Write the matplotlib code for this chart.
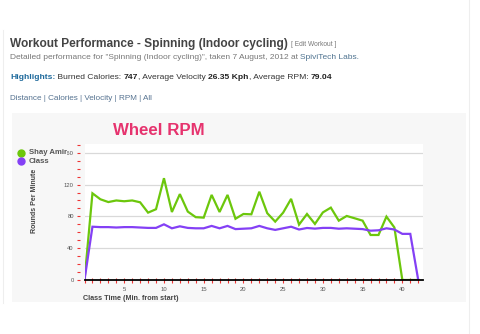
import matplotlib
matplotlib.use("Agg")
import matplotlib.pyplot as plt
from matplotlib.patches import Rectangle
from matplotlib.ticker import MultipleLocator

plt.rcParams['font.family'] = ['Liberation Sans', 'DejaVu Sans']

# Per-minute wheel RPM
minutes = list(range(0, 43))
rider_rpm = [0, 109, 101.5, 98, 100, 99, 100, 97.7, 84.7, 89, 128, 85.5, 108, 86, 79,
             78.4, 107, 85.5, 107, 77, 83, 82.6, 111, 84, 73.4, 84.7, 102, 69.6, 83,
             70.5, 85, 91, 74.6, 80.5, 77.6, 74.6, 56.6, 56.6, 79.7, 66, 0, 0, 0]
class_rpm = [0, 67, 66.5, 66.5, 66, 66.5, 66.5, 66, 65.5, 65.5, 70, 65, 67.5, 65.5, 65,
             65, 68, 65, 68, 64, 64.5, 65, 68, 65, 63, 65, 67, 63.5, 65.4, 64.6, 65.5,
             65.5, 64.5, 65, 64.5, 64, 62, 62.5, 65, 63.5, 58, 58, 0]
series_names = ["Shay Amir", "Class"]
y_ticks = [0, 40, 80, 120, 160]
x_ticks = [5, 10, 15, 20, 25, 30, 35, 40]
nav_links = ["Distance", "Calories", "Velocity", "RPM", "All"]

W, H = 480, 334
GREEN = "#6cc70c"
PURPLE = "#8440f5"
LINK = "#557290"

fig = plt.figure(figsize=(W / 100, H / 100), dpi=100)
fig.patch.set_facecolor("white")


def fx(x):
    return x / W


def fy(y):
    return 1 - y / H


renderer = fig.canvas.get_renderer()


def text_row(x, y, pieces, size):
    """Draw a run of text pieces on one baseline, each with its own weight/colour."""
    cx = x
    for s, weight, color in pieces:
        t = fig.text(fx(cx), fy(y), s, fontsize=size, fontweight=weight,
                     color=color, va="baseline", ha="left")
        bb = t.get_window_extent(renderer=renderer)
        cx += bb.width


# Faint page frame
fig.add_artist(plt.Line2D([fx(3), fx(3)], [fy(30), fy(303)], color="#eeeeee", lw=0.8))
fig.add_artist(plt.Line2D([fx(469), fx(469)], [fy(0), fy(334)], color="#eeeeee", lw=0.8))

# Page header
text_row(10, 47, [("Workout Performance - Spinning (Indoor cycling)", "bold", "#444444")], 8.6)
text_row(291, 46.5, [("[ Edit Workout ]", "normal", "#777777")], 4.8)
text_row(10, 59, [("Detailed performance for \"Spinning (Indoor cycling)\", taken 7 August, 2012 at ", "normal", "#777777"),
                  ("SpiviTech Labs.", "normal", "#4f7390")], 6.0)
text_row(10, 79, [("Highlights:", "bold", "#1f6a9c"),
                  (" Burned Calories: ", "normal", "#333333"),
                  ("747", "bold", "#222222"),
                  (", Average Velocity ", "normal", "#333333"),
                  ("26.35 Kph", "bold", "#222222"),
                  (", Average RPM: ", "normal", "#333333"),
                  ("79.04", "bold", "#222222")], 6.1)
fig.text(fx(10), fy(100.5), " | ".join(nav_links), fontsize=5.9, color=LINK,
         va="baseline", ha="left")

# Chart panel
fig.add_artist(Rectangle((fx(12), fy(302)), fx(466) - fx(12), fy(113) - fy(302),
                         transform=fig.transFigure, facecolor="#f7f7f7",
                         edgecolor="none", zorder=-5))

ax = fig.add_axes([fx(84.5), fy(280), fx(423) - fx(84.5), fy(144) - fy(280)])
ax.set_facecolor("white")
ax.set_xlim(0, 42.6)
ax.set_ylim(0, 171)

ax.plot(minutes, rider_rpm, color=GREEN, lw=1.6, solid_joinstyle="miter", zorder=3)
ax.plot(minutes, class_rpm, color=PURPLE, lw=1.6, solid_joinstyle="miter", zorder=4)

ax.set_yticks(y_ticks)
ax.yaxis.set_minor_locator(MultipleLocator(10))
ax.set_xticks(x_ticks)
ax.xaxis.set_minor_locator(MultipleLocator(1))
ax.grid(axis="y", which="major", color="#d9d9d9", lw=0.9)
ax.set_axisbelow(True)

for side in ("top", "right"):
    ax.spines[side].set_visible(False)
ax.spines["left"].set_position(("outward", 3))
ax.spines["left"].set_visible(False)
ax.spines["bottom"].set_color("black")
ax.spines["bottom"].set_linewidth(1.3)
ax.spines["bottom"].set_zorder(5)

ax.tick_params(axis="y", which="both", color="#ee3333", length=2.2, width=0.8,
               labelsize=4.2, labelcolor="#555555", pad=2.5)
ax.tick_params(axis="x", which="both", color="#ee3333", direction="inout",
               length=3.6, width=0.8, labelsize=4.2, labelcolor="#555555", pad=3)

# Chart title, axis titles, legend
fig.text(fx(159), fy(130), "Wheel RPM", fontsize=12.2, fontweight="bold",
         color="#e6336e", ha="center", va="center")
fig.text(fx(35), fy(201), "Rounds Per Minute", fontsize=5, fontweight="bold",
         color="#444444", rotation=90, ha="center", va="center")
fig.text(fx(83), fy(298), "Class Time (Min. from start)", fontsize=5.2,
         fontweight="bold", color="#444444", ha="left", va="center")

for i, (name, col) in enumerate(zip(series_names, [GREEN, PURPLE])):
    yy = 153 + i * 8.5
    fig.add_artist(plt.Line2D([fx(21)], [fy(yy)], marker="o", markersize=5,
                              color=col, transform=fig.transFigure, zorder=6))
    fig.text(fx(29), fy(yy), name, fontsize=5.6, fontweight="bold", color="#555555",
             ha="left", va="center", zorder=6,
             bbox=dict(facecolor="#f7f7f7", edgecolor="none", pad=0.3))

fig.savefig("out.png", dpi=100)
